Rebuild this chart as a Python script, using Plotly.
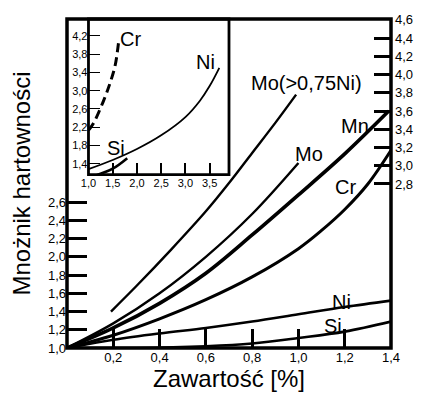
import plotly.graph_objects as go

# Main chart: hardenability multiplier vs. alloy content [%]
mo75_x = [0.19, 0.30, 0.45, 0.60, 0.70, 0.80, 0.90, 0.99]
mo75_y = [1.40, 1.68, 2.08, 2.50, 2.81, 3.14, 3.47, 3.78]
mo_x = [0.0, 0.2, 0.4, 0.6, 0.8, 1.0]
mo_y = [1.00, 1.27, 1.60, 2.00, 2.47, 3.03]
mn_x = [0.0, 0.2, 0.4, 0.6, 0.8, 1.0, 1.2, 1.39]
mn_y = [1.00, 1.22, 1.49, 1.82, 2.24, 2.68, 3.13, 3.60]
cr_x = [0.0, 0.2, 0.4, 0.6, 0.8, 1.0, 1.1, 1.2, 1.3, 1.4]
cr_y = [1.00, 1.14, 1.32, 1.53, 1.78, 2.09, 2.29, 2.52, 2.80, 3.17]
ni_x = [0.0, 0.2, 0.4, 0.6, 0.8, 1.0, 1.2, 1.4]
ni_y = [1.00, 1.09, 1.16, 1.22, 1.29, 1.37, 1.45, 1.52]
si_x = [0.0, 0.3, 0.6, 0.8, 1.0, 1.2, 1.4]
si_y = [1.00, 1.00, 1.02, 1.05, 1.11, 1.18, 1.29]

# Inset: higher contents
ni_in_x = [1.0, 1.5, 2.0, 2.5, 3.0, 3.3, 3.5, 3.7]
ni_in_y = [1.28, 1.48, 1.72, 2.02, 2.42, 2.78, 3.10, 3.50]
cr_in_x = [1.0, 1.1, 1.3, 1.45, 1.55, 1.62]
cr_in_y = [2.13, 2.28, 2.75, 3.18, 3.55, 4.05]
si_in_x = [1.15, 1.5, 1.8]
si_in_y = [1.14, 1.29, 1.52]

# Tick values
main_x_ticks = [0.2, 0.4, 0.6, 0.8, 1.0, 1.2, 1.4]
left_y_ticks = [1.0, 1.2, 1.4, 1.6, 1.8, 2.0, 2.2, 2.4, 2.6]
right_y_ticks = [2.8, 3.0, 3.2, 3.4, 3.6, 3.8, 4.0, 4.2, 4.4, 4.6]
inset_x_ticks = [1.0, 1.5, 2.0, 2.5, 3.0, 3.5]
inset_y_ticks = [1.4, 1.8, 2.2, 2.6, 3.0, 3.4, 3.8, 4.2]

FONT = "Liberation Sans, Arial, sans-serif"
Y_RANGE = [1.0, 4.61]

fig = go.Figure()


def curve(x, y, width, xa="x", ya="y", dash="solid"):
    fig.add_trace(go.Scatter(
        x=x, y=y, mode="lines", xaxis=xa, yaxis=ya,
        line=dict(color="black", width=width, shape="spline", smoothing=1.0, dash=dash),
        hoverinfo="skip", showlegend=False,
    ))


curve(mo75_x, mo75_y, 2.4)
curve(mo_x, mo_y, 2.4)
curve(mn_x, mn_y, 3.6)
curve(cr_x, cr_y, 3.0)
curve(ni_x, ni_y, 2.6)
curve(si_x, si_y, 2.6)

# empty trace so the right-hand axis is drawn
fig.add_trace(go.Scatter(x=[None], y=[None], xaxis="x", yaxis="y2",
                         mode="lines", hoverinfo="skip", showlegend=False))

curve(ni_in_x, ni_in_y, 1.8, "x3", "y3")
curve(cr_in_x, cr_in_y, 3.0, "x3", "y3", dash="9px,5px")
curve(si_in_x, si_in_y, 2.6, "x3", "y3")

tick_common = dict(showgrid=False, zeroline=False, showline=False,
                   ticks="inside", tickcolor="black", tickformat=".1f",
                   tickmode="array")

fig.update_layout(
    width=425, height=397,
    margin=dict(l=67, r=26, t=15, b=48),
    paper_bgcolor="white", plot_bgcolor="white",
    separators=", ",
    font=dict(family=FONT, color="black", size=13),
    showlegend=False,
    xaxis=dict(range=[0, 1.4], domain=[0, 1], anchor="y", tickvals=main_x_ticks,
               ticklen=19, tickwidth=2.5, tickfont=dict(size=13),
               title=dict(text="Zawartość [%]", font=dict(size=24), standoff=3),
               **tick_common),
    yaxis=dict(range=Y_RANGE, domain=[0, 1], anchor="x", tickvals=left_y_ticks,
               ticklen=20, tickwidth=3, tickfont=dict(size=13),
               title=dict(text="Mnożnik hartowności", font=dict(size=24), standoff=10),
               **tick_common),
    yaxis2=dict(range=Y_RANGE, overlaying="y", side="right", anchor="x",
                tickvals=right_y_ticks, ticklen=17, tickwidth=3,
                ticklabelstandoff=3, tickfont=dict(size=13), **tick_common),
    xaxis3=dict(range=[1.0, 3.9], domain=[0.0663, 0.5], anchor="y3",
                tickvals=inset_x_ticks, ticklen=12, tickwidth=1.5,
                tickfont=dict(size=11), **tick_common),
    yaxis3=dict(range=[1.16, 4.57], domain=[0.527, 1.0], anchor="x3",
                tickvals=inset_y_ticks, ticklen=12, tickwidth=1.2,
                tickfont=dict(size=11), **tick_common),
)

# frames of the main chart and of the inset
fig.add_shape(type="rect", xref="paper", yref="paper", x0=0, x1=1, y0=0, y1=1,
              line=dict(color="black", width=3.5))
fig.add_shape(type="rect", xref="x3 domain", yref="y3 domain", x0=0, x1=1, y0=0, y1=1,
              line=dict(color="black", width=2.8))

# series labels
main_labels = [
    ("Mo(>0,75Ni)", 1.037, 3.91),
    ("Mo", 1.046, 3.13),
    ("Mn", 1.244, 3.44),
    ("Cr", 1.202, 2.77),
    ("Ni", 1.185, 1.51),
    ("Si", 1.15, 1.24),
]
for text, lx, ly in main_labels:
    fig.add_annotation(text=text, x=lx, y=ly, xref="x", yref="y", showarrow=False,
                       font=dict(size=20, family=FONT, color="black"))

inset_labels = [
    ("Cr", 1.87, 4.13),
    ("Ni", 3.41, 3.62),
    ("Si", 1.57, 1.74),
]
for text, lx, ly in inset_labels:
    fig.add_annotation(text=text, x=lx, y=ly, xref="x3", yref="y3", showarrow=False,
                       font=dict(size=20, family=FONT, color="black"))

fig.write_html("out.html")
